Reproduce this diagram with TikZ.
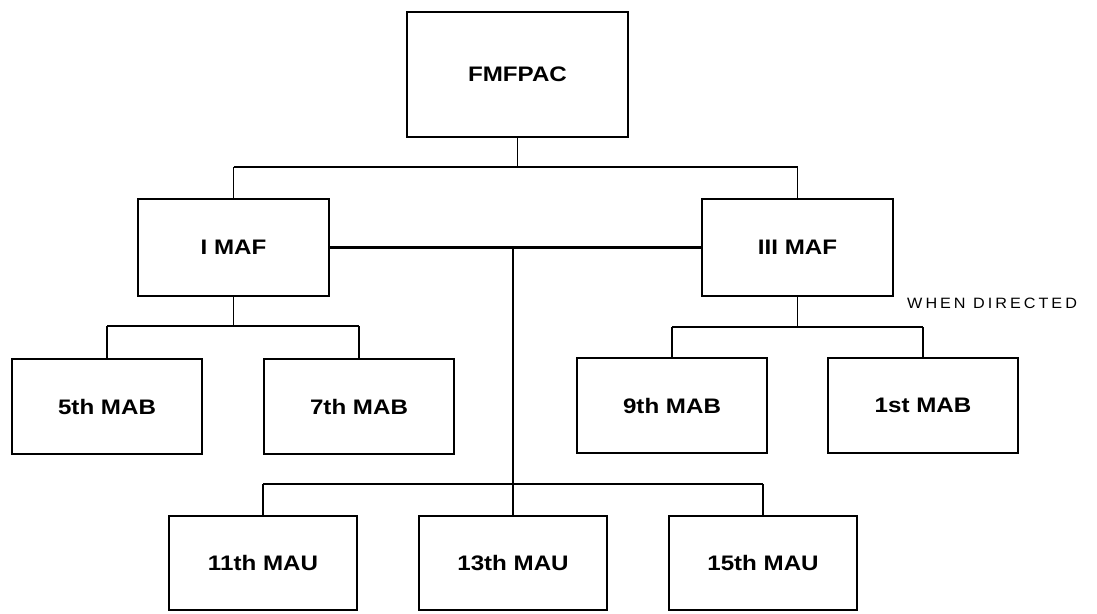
\documentclass[tikz,border=0pt]{standalone}
\usepackage{fontspec}
\newfontfamily\boxfont{Liberation Sans}[FakeStretch=1.15]
\newfontfamily\notefont{Liberation Sans}[LetterSpace=20,FakeStretch=1.08]
\begin{document}
\begin{tikzpicture}[x=1pt,y=-1pt,
  unit/.style={draw, line width=2.8pt, minimum width=190pt, minimum height=95pt,
    inner sep=0pt, font=\boxfont\bfseries\fontsize{21}{25}\selectfont},
  bus/.style={line width=2.4pt},
  stem/.style={line width=1.4pt},
  note/.style={anchor=west, inner sep=0pt, font=\notefont\fontsize{15}{17}\selectfont}]
\useasboundingbox (0,0) rectangle (1097,613);

% command levels
\node[unit, minimum width=221pt, minimum height=125pt] (fmfpac) at (517.5,74.5) {FMFPAC};
\node[unit, minimum width=191pt, minimum height=97pt] (imaf) at (233.5,247.5) {I MAF};
\node[unit, minimum width=191pt, minimum height=97pt] (iiimaf) at (797.5,247.5) {III MAF};

\node[unit] (mab5) at (107,406.5) {5th MAB};
\node[unit] (mab7) at (359,406.5) {7th MAB};
\node[unit] (mab9) at (672,405.5) {9th MAB};
\node[unit] (mab1) at (923,405.5) {1st MAB};

\node[unit, minimum width=188pt, minimum height=94pt] (mau11) at (263,563) {11th MAU};
\node[unit, minimum width=188pt, minimum height=94pt] (mau13) at (513,563) {13th MAU};
\node[unit, minimum width=188pt, minimum height=94pt] (mau15) at (763,563) {15th MAU};

\node[note] (when) at (907,303) {WHEN DIRECTED};

% bus bars
\coordinate (topbus) at (517.5,167);
\coordinate (leftbus) at (233.5,326);
\coordinate (rightbus) at (797.5,327);
\coordinate (maubus) at (513,484);

% FMFPAC to the two MAFs
\draw[stem] (fmfpac.south) -- (topbus);
\draw[bus] (imaf.north |- topbus) -- (iiimaf.north |- topbus);
\draw[stem] (imaf.north |- topbus) -- (imaf.north);
\draw[stem] (iiimaf.north |- topbus) -- (iiimaf.north);

% I MAF to its brigades
\draw[stem] (imaf.south) -- (leftbus);
\draw[bus] (mab5.north |- leftbus) -- (mab7.north |- leftbus);
\draw[stem] (mab5.north |- leftbus) -- (mab5.north);
\draw[stem] (mab7.north |- leftbus) -- (mab7.north);

% III MAF to its brigades
\draw[stem] (iiimaf.south) -- (rightbus);
\draw[bus] (mab9.north |- rightbus) -- (mab1.north |- rightbus);
\draw[stem] (mab9.north |- rightbus) -- (mab9.north);
\draw[stem] (mab1.north |- rightbus) -- (mab1.north);

% MAF link and the MAUs
\draw[bus] (imaf.east) -- (iiimaf.west);
\draw[stem] (imaf.east -| mau13.north) -- (mau13.north);
\draw[bus] (mau11.north |- maubus) -- (mau15.north |- maubus);
\draw[stem] (mau11.north |- maubus) -- (mau11.north);
\draw[stem] (mau15.north |- maubus) -- (mau15.north);
\end{tikzpicture}
\end{document}
